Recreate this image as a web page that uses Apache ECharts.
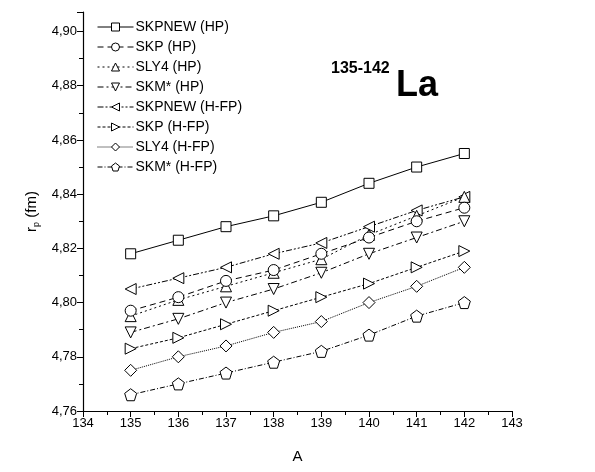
<html lang="en">
<head>
<meta charset="UTF-8">
<title>rp La</title>
<script src="https://cdn.jsdelivr.net/npm/echarts@6/dist/echarts.min.js"></script>
<style>body{margin:0;background:#fff}</style>
</head>
<body>
<div id="chart_1" style="width:595px;height:472px"></div>
<script>
// mass numbers
var massA = [135, 136, 137, 138, 139, 140, 141, 142];

// proton radii (fm)
var skpnewHP = [4.818, 4.823, 4.828, 4.832, 4.837, 4.844, 4.850, 4.855];
var skpHP    = [4.797, 4.802, 4.808, 4.812, 4.818, 4.824, 4.830, 4.835];
var sly4HP   = [4.795, 4.801, 4.806, 4.811, 4.816, 4.825, 4.832, 4.839];
var skmHP    = [4.789, 4.794, 4.800, 4.805, 4.811, 4.818, 4.824, 4.830];
var skpnewHFP = [4.805, 4.809, 4.813, 4.818, 4.822, 4.828, 4.834, 4.839];
var skpHFP    = [4.783, 4.787, 4.792, 4.797, 4.802, 4.807, 4.813, 4.819];
var sly4HFP   = [4.775, 4.780, 4.784, 4.789, 4.793, 4.800, 4.806, 4.813];
var skmHFP    = [4.766, 4.770, 4.774, 4.778, 4.782, 4.788, 4.795, 4.800];

var names = ['SKPNEW (HP)', 'SKP (HP)', 'SLY4 (HP)', 'SKM* (HP)',
             'SKPNEW (H-FP)', 'SKP (H-FP)', 'SLY4 (H-FP)', 'SKM* (H-FP)'];
var values = [skpnewHP, skpHP, sly4HP, skmHP, skpnewHFP, skpHFP, sly4HFP, skmHFP];

var symbols = [
    'rect', 'circle', 'triangle',
    'path://M0,0 L10,0 L5,9 Z',
    'path://M0,5 L9,0 L9,10 Z',
    'path://M0,0 L9,5 L0,10 Z',
    'diamond',
    'path://M0,-1 L0.951,-0.309 L0.588,0.809 L-0.588,0.809 L-0.951,-0.309 Z'
];
var sizes = [10, 11, 11, 11, 11, 11, 12, 12];
var dashes = ['solid', [6, 4], [2, 3], [6, 3, 2, 3], [6, 2, 2, 2, 2, 2], [3, 2], [1, 1], [5, 2, 1, 2]];

let myChart = echarts.init(document.getElementById('chart_1'));

var series = names.map(function (n, k) {
    return {
        name: n,
        type: 'line',
        data: massA.map(function (a, i) { return [a, values[k][i]]; }),
        symbol: symbols[k],
        symbolSize: sizes[k],
        showAllSymbol: true,
        itemStyle: { color: '#fff', borderColor: '#000', borderWidth: 1 },
        lineStyle: { color: '#000', width: 1, type: dashes[k] },
        z: 10 - k,
        animation: false
    };
});

var font = 'Liberation Sans';

option = {
    backgroundColor: '#fff',
    grid: { left: 83, right: 83, top: 12, bottom: 61 },
    legend: {
        orient: 'vertical',
        left: 92,
        top: 15,
        itemWidth: 36,
        itemHeight: 10,
        itemGap: 6,
        data: names,
        itemStyle: { borderWidth: 1, borderColor: '#000' },
        lineStyle: { width: 1, color: '#000' },
        textStyle: { fontFamily: font, fontSize: 14, color: '#000', padding: [0, 0, 0, -3] }
    },
    graphic: [
        { type: 'text', left: 331, top: 61, style: { text: '135-142', font: 'bold 16px "Liberation Sans"', fill: '#000' } },
        { type: 'text', left: 396, top: 68, style: { text: 'La', font: 'bold 36px "Liberation Sans"', fill: '#000' } }
    ],
    xAxis: {
        type: 'value',
        min: 134, max: 143, interval: 1,
        name: 'A',
        nameLocation: 'middle',
        nameGap: 38,
        nameTextStyle: { fontFamily: font, fontSize: 15, color: '#000' },
        axisLine: { onZero: false, lineStyle: { color: '#000', width: 1.2 } },
        axisTick: { inside: false, length: 6, lineStyle: { color: '#000' } },
        minorTick: { show: true, splitNumber: 2, length: 4, lineStyle: { color: '#000' } },
        axisLabel: { fontFamily: font, fontSize: 13, color: '#000', margin: 6 },
        splitLine: { show: false }
    },
    yAxis: {
        type: 'value',
        min: 4.76, max: 4.9072, interval: 0.02,
        name: '{a|r}{b|p}{a| (fm)}',
        nameLocation: 'middle',
        nameGap: 38,
        nameTextStyle: {
            fontFamily: font, fontSize: 15, color: '#000',
            rich: {
                a: { fontFamily: font, fontSize: 15, color: '#000' },
                b: { fontFamily: font, fontSize: 9, color: '#000', padding: [8, 0, 0, 0] }
            }
        },
        axisLine: { lineStyle: { color: '#000', width: 1.2 } },
        axisTick: { inside: false, length: 6, lineStyle: { color: '#000' } },
        minorTick: { show: true, splitNumber: 2, length: 4, lineStyle: { color: '#000' } },
        axisLabel: {
            fontFamily: font, fontSize: 13, color: '#000', margin: 6,
            showMaxLabel: false,
            formatter: function (v) { return v.toFixed(2).replace('.', ','); }
        },
        splitLine: { show: false }
    },
    series: series
};

myChart.setOption(option);
</script>
</body>
</html>
